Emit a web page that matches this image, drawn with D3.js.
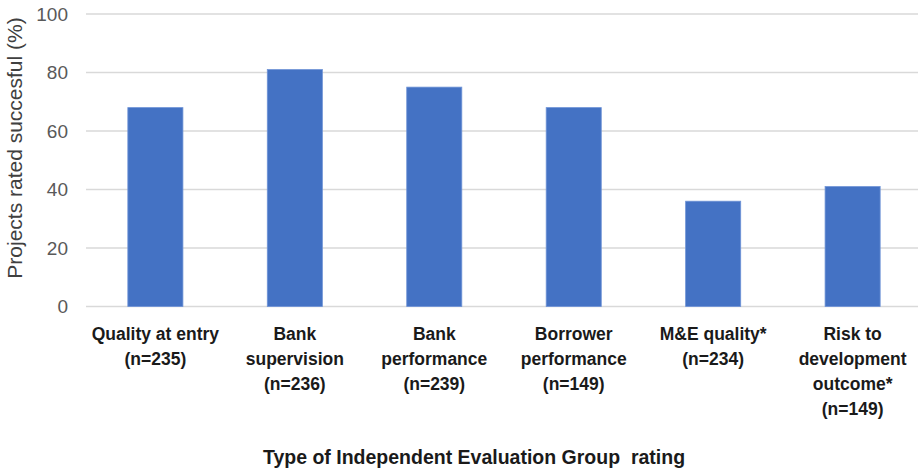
<!DOCTYPE html>
<html>
<head>
<meta charset="utf-8">
<script src="https://cdn.jsdelivr.net/npm/d3@7/dist/d3.min.js"></script>
<style>
  html, body { margin: 0; padding: 0; background: #fff; }
  svg { display: block; }
</style>
</head>
<body>
<script>
// IEG rating categories (multi-line labels) and share of projects rated successful
const categories = [
  ["Quality at entry", "(n=235)"],
  ["Bank", "supervision", "(n=236)"],
  ["Bank", "performance", "(n=239)"],
  ["Borrower", "performance", "(n=149)"],
  ["M&E quality*", "(n=234)"],
  ["Risk to", "development", "outcome*", "(n=149)"]
];
const values = [68, 81, 75, 68, 36, 41];
const yTicks = [0, 20, 40, 60, 80, 100];

const width = 918, height = 475;
const margin = { top: 14, right: -4, bottom: 169, left: 86 };
const font = "'Liberation Sans', Arial, sans-serif";

const svg = d3.select("body").append("svg")
  .attr("width", width).attr("height", height);

const x = d3.scaleBand()
  .domain(d3.range(categories.length))
  .range([margin.left, width - margin.right])
  .paddingInner(0.605).paddingOuter(0.3);

const y = d3.scaleLinear()
  .domain([0, 100])
  .range([height - margin.bottom + 0.5, margin.top]);

// horizontal gridlines
svg.append("g")
  .selectAll("line")
  .data(yTicks)
  .join("line")
  .attr("x1", margin.left).attr("x2", width)
  .attr("y1", d => y(d)).attr("y2", d => y(d))
  .attr("stroke", "#d9d9d9").attr("stroke-width", 1.5);

// y tick labels
const yAxis = svg.append("g")
  .attr("transform", `translate(${margin.left - 18},0)`)
  .call(d3.axisLeft(y).tickValues(yTicks).tickSize(0).tickPadding(0));
yAxis.select(".domain").remove();
yAxis.selectAll("text")
  .attr("font-family", font)
  .attr("font-size", 19)
  .attr("fill", "#595959");

// bars
svg.append("g")
  .selectAll("rect")
  .data(values)
  .join("rect")
  .attr("x", (d, i) => x(i))
  .attr("width", x.bandwidth())
  .attr("y", d => y(d))
  .attr("height", d => y(0) - y(d))
  .attr("fill", "#4472c4")
  .attr("stroke", "#6f93d6")
  .attr("stroke-width", 0.8);

// category labels
const labels = svg.append("g")
  .attr("font-family", font)
  .attr("font-size", 17.5)
  .attr("font-weight", "bold")
  .attr("fill", "#1a1a1a")
  .attr("text-anchor", "middle");
categories.forEach((lines, i) => {
  const cx = x(i) + x.bandwidth() / 2;
  const t = labels.append("text")
    .attr("x", cx)
    .attr("y", 340);
  lines.forEach((ln, j) => {
    t.append("tspan")
      .attr("x", cx)
      .attr("dy", j === 0 ? 0 : 25)
      .text(ln);
  });
});

// axis titles
svg.append("text")
  .attr("x", 474).attr("y", 464)
  .attr("text-anchor", "middle")
  .attr("font-family", font)
  .attr("font-size", 19.5)
  .attr("font-weight", "bold")
  .attr("fill", "#1a1a1a")
  .attr("xml:space", "preserve")
  .text("Type of Independent Evaluation Group  rating");

svg.append("text")
  .attr("transform", "translate(22,148) rotate(-90)")
  .attr("text-anchor", "middle")
  .attr("font-family", font)
  .attr("font-size", 21)
  .attr("fill", "#404040")
  .text("Projects rated succesful (%)");
</script>
</body>
</html>
